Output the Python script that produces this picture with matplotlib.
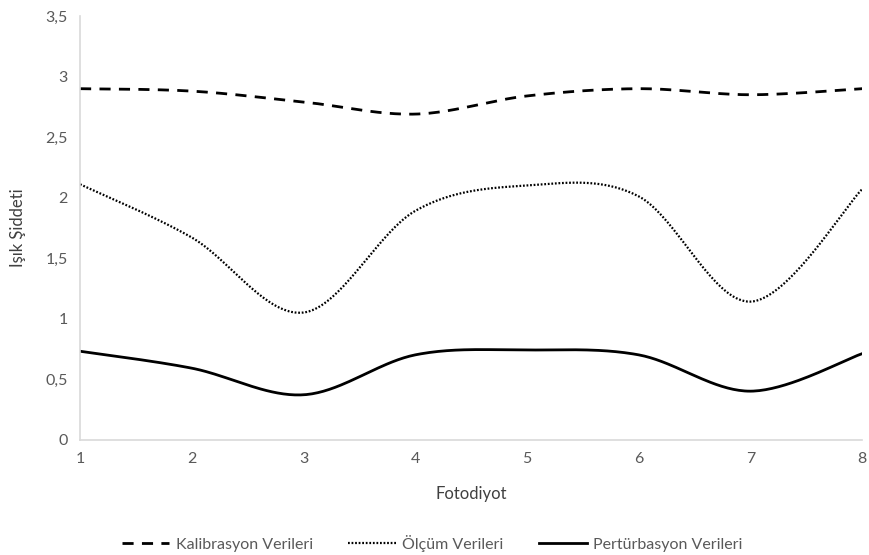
import numpy as np
import matplotlib
matplotlib.use("Agg")
import matplotlib.pyplot as plt
from matplotlib.ticker import FuncFormatter

# Data
fotodiyot = [1, 2, 3, 4, 5, 6, 7, 8]
kalibrasyon = [2.90, 2.88, 2.79, 2.69, 2.84, 2.90, 2.85, 2.90]
olcum = [2.11, 1.67, 1.05, 1.89, 2.10, 2.01, 1.14, 2.07]
perturbasyon = [0.73, 0.59, 0.37, 0.70, 0.74, 0.70, 0.40, 0.71]

GRAY = "#595959"
plt.rcParams["font.family"] = ["Lato", "DejaVu Sans"]


def smooth(xs, ys, n=40):
    # Excel-style smoothed line: cubic Bezier through points, Catmull-Rom tangents
    xs = np.asarray(xs, float)
    ys = np.asarray(ys, float)
    px = np.concatenate([[xs[0]], xs, [xs[-1]]])
    py = np.concatenate([[ys[0]], ys, [ys[-1]]])
    out_x, out_y = [], []
    t = np.linspace(0, 1, n)
    for i in range(1, len(px) - 2):
        p0 = np.array([px[i], py[i]])
        p3 = np.array([px[i + 1], py[i + 1]])
        c1 = p0 + (np.array([px[i + 1], py[i + 1]]) - np.array([px[i - 1], py[i - 1]])) / 6
        c2 = p3 - (np.array([px[i + 2], py[i + 2]]) - np.array([px[i], py[i]])) / 6
        b = ((1 - t) ** 3)[:, None] * p0 + (3 * (1 - t) ** 2 * t)[:, None] * c1 \
            + (3 * (1 - t) * t ** 2)[:, None] * c2 + (t ** 3)[:, None] * p3
        out_x.extend(b[:, 0])
        out_y.extend(b[:, 1])
    return out_x, out_y


fig, ax = plt.subplots(figsize=(8.7, 5.55), dpi=100)
fig.subplots_adjust(left=0.092, right=0.991, bottom=0.208, top=0.971)

series = [
    (kalibrasyon, "Kalibrasyon Verileri", (0, (4, 3)), 2.0),
    (olcum, "Ölçüm Verileri", (0, (0.8, 0.8)), 1.6),
    (perturbasyon, "Pertürbasyon Verileri", "-", 2.0),
]
for ys, label, ls, lw in series:
    sx, sy = smooth(fotodiyot, ys)
    ax.plot(sx, sy, color="black", lw=lw, linestyle=ls, label=label)

ax.set_xlim(1, 8)
ax.set_ylim(0, 3.5)
ax.set_yticks(np.arange(0, 3.51, 0.5))
ax.set_xticks(fotodiyot)
ax.yaxis.set_major_formatter(FuncFormatter(lambda v, p: f"{v:g}".replace(".", ",")))
ax.tick_params(length=0, colors=GRAY, labelsize=11.5, pad=9)
for s in ["top", "right"]:
    ax.spines[s].set_visible(False)
for s in ["left", "bottom"]:
    ax.spines[s].set_color("#d9d9d9")
    ax.spines[s].set_linewidth(1.2)

ax.set_xlabel("Fotodiyot", color="#404040", fontsize=12, labelpad=14)
ax.set_ylabel("Işık Şiddeti", color="#404040", fontsize=12, labelpad=14)

ax.legend(loc="center", bbox_to_anchor=(0.45, -0.245), ncol=3, frameon=False,
          fontsize=11.5, labelcolor=GRAY, handlelength=3.0, columnspacing=2.2,
          handletextpad=0.4)

fig.savefig("out.png", dpi=100)
